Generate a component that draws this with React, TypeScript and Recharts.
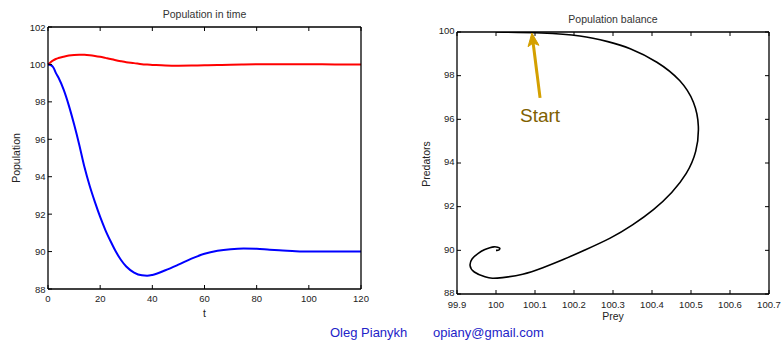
import React from 'react';
import { LineChart, Line, XAxis, YAxis, ReferenceLine, ReferenceDot } from 'recharts';

// time (t)
const timeT = [0, 1, 2, 3, 4, 6, 8, 10, 12, 14, 16, 18, 20, 22, 24, 26, 28, 30, 33, 36, 38, 40, 45, 50, 55, 60, 65, 70, 75, 80, 85, 90, 95, 100, 110, 120];
// prey population (red)
const preyValues = [100, 100.12, 100.22, 100.29, 100.34, 100.415, 100.475, 100.51, 100.522, 100.515, 100.49, 100.452, 100.405, 100.35, 100.295, 100.226, 100.17, 100.12, 100.07, 100.01, 99.99, 99.975, 99.94, 99.931, 99.937, 99.955, 99.97, 99.985, 99.995, 100.005, 100.01, 100.01, 100.008, 100.005, 100.002, 100.0];
// predator population (blue)
const predatorValues = [100, 99.97, 99.85, 99.55, 99.3, 98.65, 97.8, 96.8, 95.7, 94.5, 93.5, 92.64, 91.85, 91.15, 90.55, 90.0, 89.55, 89.2, 88.88, 88.73, 88.71, 88.75, 89.0, 89.3, 89.62, 89.88, 90.04, 90.13, 90.17, 90.15, 90.1, 90.06, 90.02, 90.0, 90.0, 90.0];

const timeTicks = [0, 20, 40, 60, 80, 100, 120];
const popTicks = [88, 90, 92, 94, 96, 98, 100, 102];
const preyTicks = [99.9, 100, 100.1, 100.2, 100.3, 100.4, 100.5, 100.6, 100.7];
const predTicks = [88, 90, 92, 94, 96, 98, 100];

// annotation: arrow tail -> tip, label position
const arrowTail = { prey: 100.113, pred: 96.98 };
const arrowTip = { prey: 100.092, pred: 99.95 };
const startLabel = { prey: 100.113, pred: 96.2, text: 'Start' };

const data = timeT.map((t, i) => ({ t, prey: preyValues[i], pred: predatorValues[i] }));

const FONT = '"Liberation Sans", Arial, Helvetica, sans-serif';
const TICK = 4;
const TICK_FONT = 9.5;
const TICK_COLOR = '#222';

const BottomTick = (props: any) => {
  const { x, y, payload, labelDy = 12.5 } = props;
  return (
    <g>
      <line x1={x} y1={y} x2={x} y2={y - TICK} stroke="#000" strokeWidth={1} />
      <text x={x} y={y + labelDy} textAnchor="middle" fontSize={TICK_FONT} fontFamily={FONT} fill={TICK_COLOR}>
        {String(payload.value)}
      </text>
    </g>
  );
};

const TopTick = (props: any) => {
  const { x, y } = props;
  return <line x1={x} y1={y} x2={x} y2={y + TICK} stroke="#000" strokeWidth={1} />;
};

const LeftTick = (props: any) => {
  const { x, y, payload, labelDy = 3.5 } = props;
  return (
    <g>
      <line x1={x} y1={y} x2={x + TICK} y2={y} stroke="#000" strokeWidth={1} />
      <text x={x - 2.5} y={y + labelDy} textAnchor="end" fontSize={TICK_FONT} fontFamily={FONT} fill={TICK_COLOR}>
        {String(payload.value)}
      </text>
    </g>
  );
};

const RightTick = (props: any) => {
  const { x, y } = props;
  return <line x1={x} y1={y} x2={x - TICK} y2={y} stroke="#000" strokeWidth={1} />;
};

const ArrowShape = (props: any) => {
  const { x1, y1, x2, y2 } = props;
  if (x1 == null) return <g />;
  const dx = x2 - x1;
  const dy = y2 - y1;
  const len = Math.sqrt(dx * dx + dy * dy) || 1;
  const ux = dx / len;
  const uy = dy / len;
  const headLen = 13;
  const headW = 5.5;
  const bx = x2 - ux * headLen;
  const by = y2 - uy * headLen;
  const px = -uy;
  const py = ux;
  return (
    <g>
      <line x1={x1} y1={y1} x2={bx + ux * 3} y2={by + uy * 3} stroke="#D4A000" strokeWidth={3} />
      <polygon
        points={`${x2},${y2} ${bx + px * headW},${by + py * headW} ${bx + ux * 3},${by + uy * 3} ${bx - px * headW},${by - py * headW}`}
        fill="#D4A000"
        stroke="#D4A000"
        strokeWidth={1}
      />
    </g>
  );
};

const StartText = (props: any) => {
  const { cx, cy } = props;
  if (cx == null) return <g />;
  return (
    <text x={cx} y={cy + 7} textAnchor="middle" fontSize={19} fontFamily={FONT} fill="#7F6000">
      {startLabel.text}
    </text>
  );
};

const axisLine = { stroke: '#000', strokeWidth: 1.3 };

const textStyle: React.CSSProperties = {
  position: 'absolute',
  fontFamily: FONT,
  color: '#222',
  whiteSpace: 'nowrap',
  textAlign: 'center',
};

export default function App() {
  return (
    <div style={{ position: 'absolute', left: 0, top: 0, width: 781, height: 341, background: '#fff', overflow: 'hidden' }}>
      {/* Left chart: population in time */}
      <div style={{ position: 'absolute', left: 0, top: 0 }}>
        <LineChart width={390} height={341} data={data} margin={{ top: 26, right: 28, bottom: 51, left: 47 }}>
          <XAxis dataKey="t" type="number" domain={[0, 120]} ticks={timeTicks} interval={0} height={1} tickSize={0} tickMargin={0} tickLine={false} axisLine={axisLine} tick={<BottomTick />} />
          <XAxis xAxisId="top" orientation="top" dataKey="t" type="number" domain={[0, 120]} ticks={timeTicks} interval={0} height={1} tickSize={0} tickMargin={0} tickLine={false} axisLine={axisLine} tick={<TopTick />} />
          <YAxis type="number" domain={[88, 102]} ticks={popTicks} interval={0} width={1} tickSize={0} tickMargin={0} tickLine={false} axisLine={axisLine} tick={<LeftTick />} />
          <YAxis yAxisId="right" orientation="right" type="number" domain={[88, 102]} ticks={popTicks} interval={0} width={1} tickSize={0} tickMargin={0} tickLine={false} axisLine={axisLine} tick={<RightTick />} />
          <Line dataKey="prey" type="monotone" stroke="#ff0000" strokeWidth={2} dot={false} isAnimationActive={false} />
          <Line dataKey="pred" type="monotone" stroke="#0000ff" strokeWidth={2} dot={false} isAnimationActive={false} />
        </LineChart>
      </div>

      {/* Right chart: population balance */}
      <div style={{ position: 'absolute', left: 390, top: 0 }}>
        <LineChart width={391} height={341} data={data} margin={{ top: 31, right: 11, bottom: 46, left: 66 }}>
          <XAxis dataKey="prey" type="number" domain={[99.9, 100.7]} ticks={preyTicks} interval={0} height={1} tickSize={0} tickMargin={0} tickLine={false} axisLine={axisLine} tick={<BottomTick labelDy={13.5} />} allowDataOverflow />
          <XAxis xAxisId="top" orientation="top" dataKey="prey" type="number" domain={[99.9, 100.7]} ticks={preyTicks} interval={0} height={1} tickSize={0} tickMargin={0} tickLine={false} axisLine={axisLine} tick={<TopTick />} allowDataOverflow />
          <YAxis type="number" domain={[88, 100]} ticks={predTicks} interval={0} width={1} tickSize={0} tickMargin={0} tickLine={false} axisLine={axisLine} tick={<LeftTick labelDy={2.3} />} allowDataOverflow />
          <YAxis yAxisId="right" orientation="right" type="number" domain={[88, 100]} ticks={predTicks} interval={0} width={1} tickSize={0} tickMargin={0} tickLine={false} axisLine={axisLine} tick={<RightTick />} allowDataOverflow />
          <Line dataKey="pred" type="basis" stroke="#000" strokeWidth={1.6} dot={false} isAnimationActive={false} />
          <ReferenceLine
            segment={[
              { x: arrowTail.prey, y: arrowTail.pred },
              { x: arrowTip.prey, y: arrowTip.pred },
            ]}
            ifOverflow="visible"
            shape={(p: any) => <ArrowShape {...p} />}
          />
          <ReferenceDot x={startLabel.prey} y={startLabel.pred} r={0} ifOverflow="visible" shape={(p: any) => <StartText {...p} />} />
        </LineChart>
      </div>

      {/* Titles and axis labels */}
      <div style={{ ...textStyle, left: 48, width: 313, top: 8, fontSize: 10.5, lineHeight: '12px', color: '#333' }}>Population in time</div>
      <div style={{ ...textStyle, left: 457, width: 312, top: 13, fontSize: 10.5, lineHeight: '12px', color: '#333' }}>Population balance</div>
      <div style={{ ...textStyle, left: 48, width: 313, top: 307, fontSize: 10.5, lineHeight: '12px' }}>t</div>
      <div style={{ ...textStyle, left: 457, width: 312, top: 310, fontSize: 10.5, lineHeight: '12px' }}>Prey</div>
      <div style={{ ...textStyle, left: 16 - 60, width: 120, top: 158 - 6, fontSize: 10.5, lineHeight: '12px', transform: 'rotate(-90deg)' }}>Population</div>
      <div style={{ ...textStyle, left: 426 - 60, width: 120, top: 164 - 6, fontSize: 10.5, lineHeight: '12px', transform: 'rotate(-90deg)' }}>Predators</div>

      {/* Footer */}
      <div style={{ ...textStyle, textAlign: 'left', left: 330, top: 325, fontSize: 13, lineHeight: '16px', color: '#2323C8' }}>Oleg Pianykh</div>
      <div style={{ ...textStyle, textAlign: 'left', left: 433, top: 325, fontSize: 13, lineHeight: '16px', color: '#2323C8' }}>opiany@gmail.com</div>
    </div>
  );
}
